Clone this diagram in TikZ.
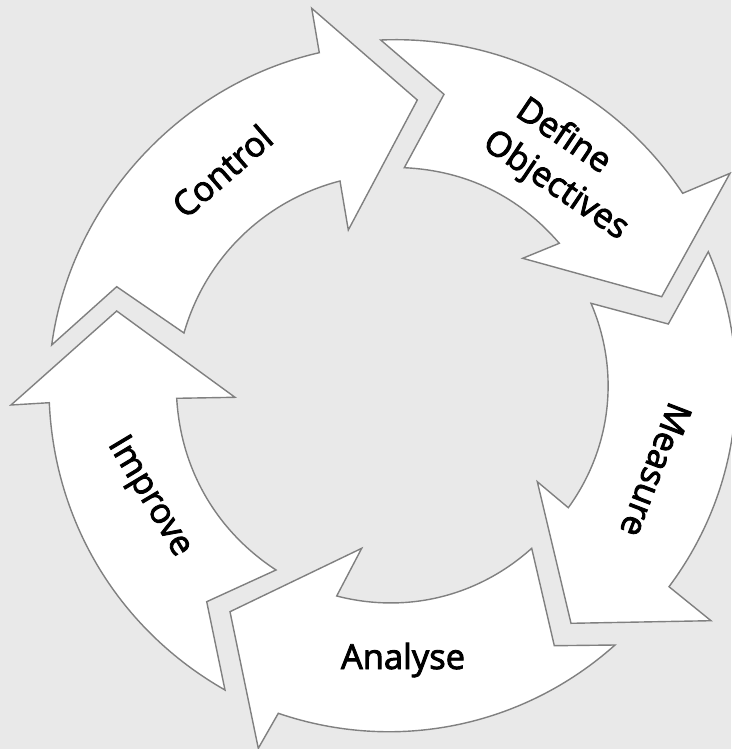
\documentclass[tikz,border=0pt]{standalone}
\usepackage{fontspec}
\setmainfont{Open Sans}
\newfontfamily\lblfont[FakeBold=2.6]{Open Sans}
\definecolor{bg}{RGB}{233,233,233}
\definecolor{edge}{RGB}{128,128,128}
\begin{document}
\begin{tikzpicture}[x=1pt,y=1pt,
  arrowshape/.style={draw=edge, fill=white, line width=1.4pt, line join=miter},
  lbl/.style={font=\lblfont\fontsize{34.5}{43}\selectfont, text=black, align=center, inner sep=0pt},
  ib/.style={bend left=#1, looseness=0.92},
  ob/.style={bend right=#1, looseness=0.92}]
\fill[bg] (0,0) rectangle (731,-749);
\useasboundingbox (0,0) rectangle (731,-749);

% Control
\draw[arrowshape] (51.7,-345) -- (116.7,-286.7) -- (184,-333) to[ib=29.8] (340,-181) -- (348.3,-230) -- (417.3,-100) -- (311.7,-8.3) -- (319.3,-52.7) to[ob=34.75] (51.7,-345) -- cycle;
% Define Objectives
\draw[arrowshape] (380.7,-40) -- (444,-94.3) -- (404.3,-167.7) to[ib=23.3] (559.3,-243.3) -- (522.7,-258.3) -- (661.7,-296.7) -- (730,-173.3) -- (682.7,-193.3) to[ob=29.3] (380.7,-40) -- cycle;
% Measure
\draw[arrowshape] (708.3,-251.7) -- (668.3,-324) -- (591,-303.3) to[ib=29.6] (568.3,-507.7) -- (537.3,-481.7) -- (571,-623.3) -- (711,-620.7) -- (669,-586.7) to[ob=30.1] (708.3,-251.7) -- cycle;
% Analyse
\draw[arrowshape] (615,-645) -- (554.3,-645.7) -- (531.7,-548.3) to[ib=28.2] (336.7,-596) -- (361.7,-548.3) -- (230,-611.7) -- (258.3,-748.3) -- (278.3,-713.3) to[ob=30.3] (615,-645) -- cycle;
% Improve
\draw[arrowshape] (225,-690) -- (206.7,-601.7) -- (276,-570) to[ib=26.7] (176.7,-398.3) -- (235,-397.3) -- (116.7,-311) -- (11,-405) -- (49.3,-402.7) to[ob=28.9] (225,-690) -- cycle;

\node[lbl, rotate=41] (control) at (222,-171) {Control};
\node[lbl, rotate=-34, anchor=base west] (define1) at (514,-115) {Define};
\node[lbl, rotate=-34, anchor=base west] (define2) at (481,-147) {Objectives};
\node[lbl, rotate=-111] (measure) at (656,-470) {Measure};
\node[lbl, anchor=base] (analyse) at (403,-669) {Analyse};
\node[lbl, rotate=-59] (improve) at (149,-497) {Improve};
\end{tikzpicture}
\end{document}
